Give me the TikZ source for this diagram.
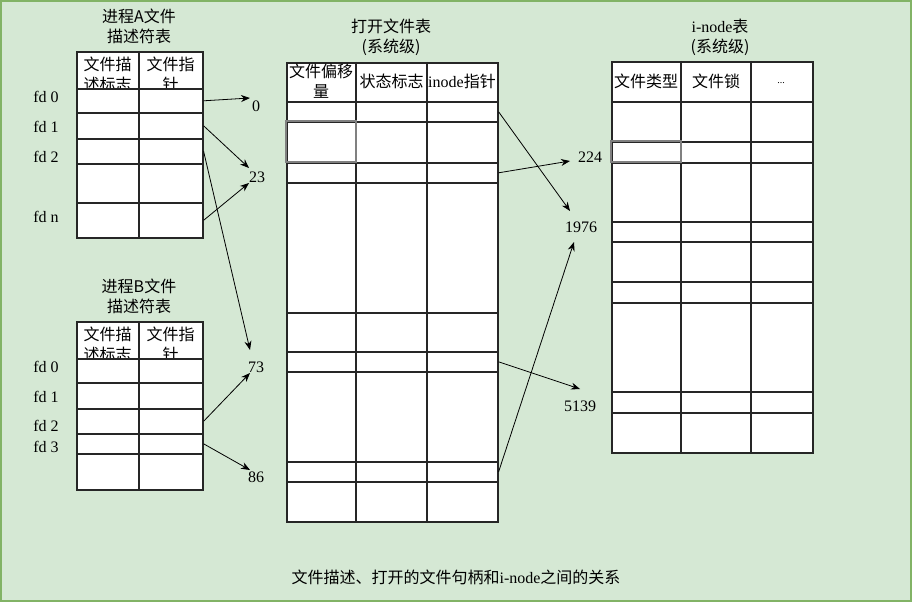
\documentclass[tikz,border=0pt]{standalone}
\usepackage{fontspec}
\setmainfont{Liberation Serif}
\newfontfamily\cjk{Noto Sans CJK SC}
\usetikzlibrary{arrows.meta}
\definecolor{fondvert}{HTML}{D5E8D4}
\definecolor{bordvert}{HTML}{82B366}

\begin{document}
\begin{tikzpicture}[x=1pt, y=-1pt,
		trait/.style={draw=black!85, line width=1.6pt},
		case/.style={trait, fill=white, inner sep=0pt, anchor=north west},
		texte/.style={font=\fontsize{16}{20}\selectfont, align=center, inner sep=2pt},
		chinois/.style={texte, font=\cjk\fontsize{16}{20}\selectfont},
		fleche/.style={-{Stealth[length=9pt, width=7pt]}, line width=0.8pt}]
		
		% Fond vert avec bordure
		\draw[fill=fondvert, draw=bordvert, line width=1.5pt] (1,1) rectangle (911,601);
		\useasboundingbox (0,0) rectangle (912,602);
		
		% Table des descripteurs du processus A
		\node[chinois] (titreA) at (139,26) {进程A文件\\描述符表};
		\node[case, minimum width=126pt, minimum height=37pt] (A0) at (76,51) {};
		\node[chinois] (A0g) at (107.5,74) {文件描\\述标志};
		\node[chinois] (A0d) at (170.5,74) {文件指\\针};
		\foreach \i/\h/\b in {1/88/112, 2/112/138, 3/138/163, 4/163/202, 5/202/237}{
			\node[case, minimum width=126pt, minimum height={\b-\h}] (A\i) at (76,\h) {};
		}
		\draw[trait] (139,51) -- (139,237);
		\foreach \n/\y in {0/97, 1/127, 2/157, n/217}{
			\node[texte] (fdA\n) at (46,\y) {fd \n};
		}
		
		% Table des descripteurs du processus B
		\node[chinois] (titreB) at (139,296) {进程B文件\\描述符表};
		\node[case, minimum width=126pt, minimum height=37pt] (B0) at (76,321) {};
		\node[chinois] (B0g) at (107.5,344) {文件描\\述标志};
		\node[chinois] (B0d) at (170.5,344) {文件指\\针};
		\foreach \i/\h/\b in {1/358/382, 2/382/408, 3/408/433, 4/433/453, 5/453/489}{
			\node[case, minimum width=126pt, minimum height={\b-\h}] (B\i) at (76,\h) {};
		}
		\draw[trait] (139,321) -- (139,489);
		\foreach \n/\y in {0/367, 1/397, 2/426, 3/447}{
			\node[texte] (fdB\n) at (46,\y) {fd \n};
		}
		
		% Table des fichiers ouverts
		\node[chinois] (titreM) at (391,37) {打开文件表\\(系统级)};
		\foreach \i/\h/\b in {0/62/101, 1/101/121, 2/121/162, 3/162/182, 4/182/312,
			5/312/351, 6/351/371, 7/371/461, 8/461/481, 9/481/521}{
			\node[case, minimum width=211pt, minimum height={\b-\h}] (M\i) at (286,\h) {};
		}
		\draw[trait] (356,62) -- (356,521);
		\draw[trait] (427,62) -- (427,521);
		\draw[trait, draw=gray] (286,121) rectangle (356,162);
		\node[chinois] (M0a) at (321,81) {文件偏移\\量};
		\node[chinois] (M0b) at (391.5,81) {状态标志};
		\node[chinois] (M0c) at (462,81) {{\rmfamily inode}指针};
		
		% Table des i-nodes
		\node[chinois] (titreI) at (720,37) {{\rmfamily i-node}表\\(系统级)};
		\foreach \i/\h/\b in {0/61/101, 1/101/141, 2/141/162, 3/162/221, 4/221/241,
			5/241/281, 6/281/302, 7/302/391, 8/391/412, 9/412/452}{
			\node[case, minimum width=201pt, minimum height={\b-\h}] (I\i) at (611,\h) {};
		}
		\draw[trait] (681,61) -- (681,452);
		\draw[trait] (751,61) -- (751,452);
		\draw[trait, draw=gray] (611,141) rectangle (681,162);
		\node[chinois] (I0a) at (646,81) {文件类型};
		\node[chinois] (I0b) at (716,81) {文件锁};
		\node[texte, font=\fontsize{10}{12}\selectfont] (I0c) at (781,83) {...};
		
		% Valeurs pointées
		\foreach \nom/\x/\y in {0/256/106, 23/257/177, 73/256/367, 86/256/477,
			224/590/157, 1976/581/227, 5139/580/406}{
			\node[texte] (v\nom) at (\x,\y) {\nom};
		}
		
		% Flèches des descripteurs vers les fichiers ouverts
		\draw[fleche] (A1.east) -- ([shift={(-6,-8)}]v0.center);
		\draw[fleche] (A2.east) -- ([shift={(-8,-9)}]v23.center);
		\draw[fleche] (A5.east) -- ([shift={(-8,6)}]v23.center);
		\draw[fleche] (A3.east) -- ([shift={(-6,-17)}]v73.center);
		\draw[fleche] (B3.east) -- ([shift={(-6,6)}]v73.center);
		\draw[fleche] (B4.east) -- ([shift={(-6,-7)}]v86.center);
		
		% Flèches des fichiers ouverts vers les i-nodes
		\draw[fleche] (M1.east) -- ([shift={(-11,-16)}]v1976.center);
		\draw[fleche] (M3.east) -- ([shift={(-20,4)}]v224.center);
		\draw[fleche] (M6.east) -- ([shift={(0,-17)}]v5139.center);
		\draw[fleche] (M8.east) -- ([shift={(-7,15)}]v1976.center);
		
		% Légende
		\node[chinois] (legende) at (456,577) {文件描述、打开的文件句柄和{\rmfamily i-node}之间的关系};
		
	\end{tikzpicture}
\end{document}
